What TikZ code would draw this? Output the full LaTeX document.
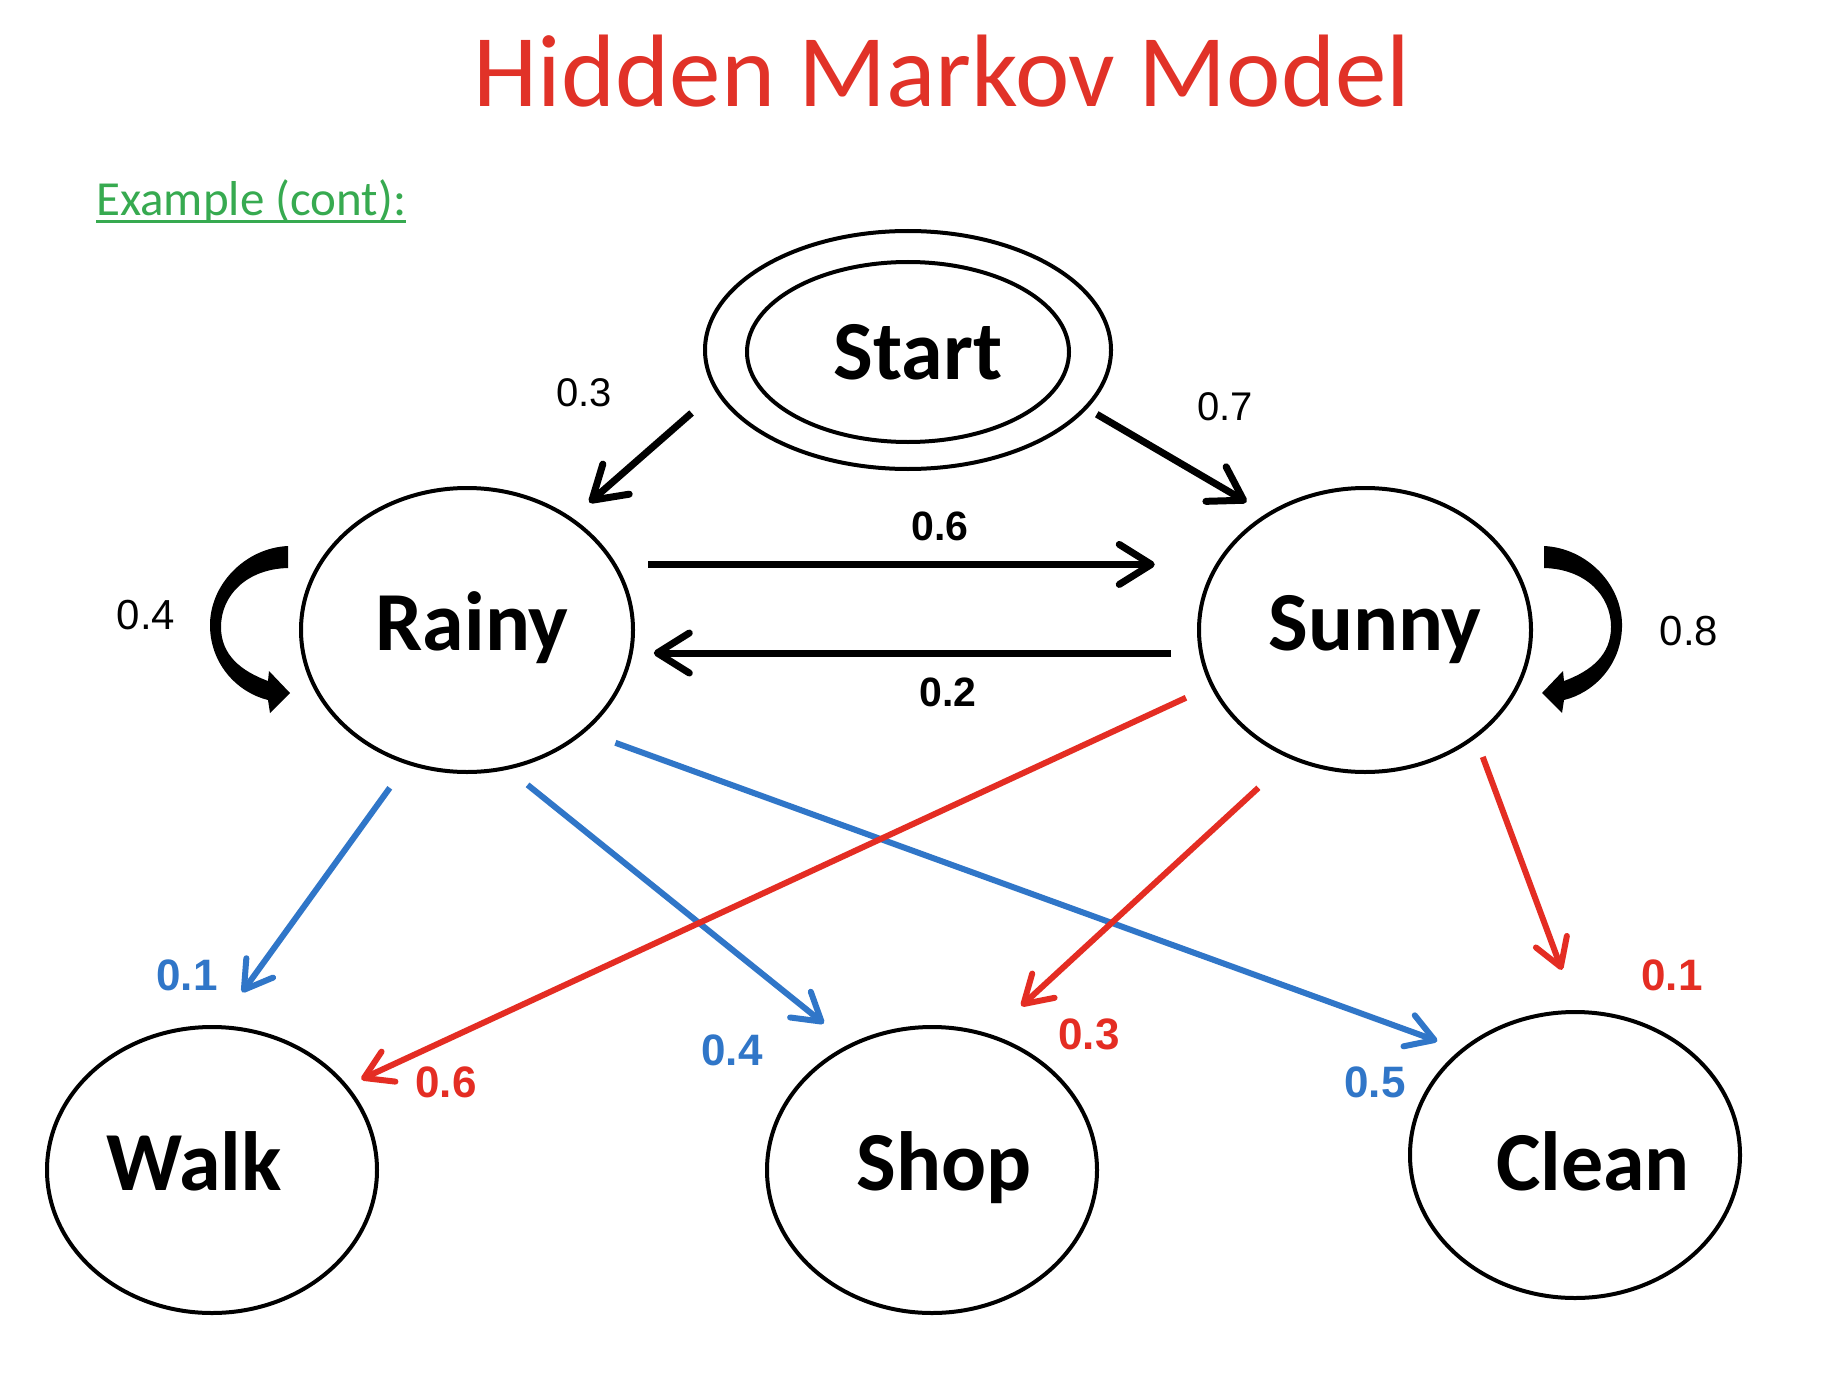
\documentclass[tikz,border=0pt]{standalone}
\usepackage{fontspec}
\setmainfont{Carlito}
\newfontfamily\labfont{Liberation Sans}
\usetikzlibrary{arrows.meta,shapes.geometric}
\definecolor{hmmred}{RGB}{225,50,40}
\definecolor{hmmgreen}{RGB}{55,170,80}
\definecolor{emblue}{RGB}{48,118,200}
\definecolor{emred}{RGB}{228,45,35}
\newcommand\hmmloop{(-179,-84) .. controls (-222,-82) and (-258,-45) .. (-257,-3)
  .. controls (-256,36) and (-228,63) .. (-199,70) -- (-197,83) -- (-177,63) -- (-198,41) -- (-199,51)
  .. controls (-226,41) and (-246,25) .. (-246,-3) .. controls (-246,-35) and (-220,-61) .. (-179,-62) -- cycle}
\begin{document}
\begin{tikzpicture}[x=1pt,y=-1pt,
  state/.style={ellipse,draw,line width=4pt,minimum width=332pt,minimum height=284pt,
    inner sep=0pt,outer sep=0pt,text height=40pt,text depth=0pt,font=\fontsize{84}{90}\selectfont\bfseries},
  obs/.style={state,minimum width=330pt,minimum height=286pt},
  trans/.style={line width=7pt,-{Straight Barb[length=32pt,width=40pt,round]}},
  emit/.style={line width=6pt,-{Straight Barb[length=27pt,width=33pt,round]}},
  blab/.style={inner sep=0pt,font=\labfont\fontsize{40}{44}\selectfont},
  bblab/.style={inner sep=0pt,font=\labfont\bfseries\fontsize{41}{44}\selectfont},
  clab/.style={inner sep=0pt,font=\labfont\bfseries\fontsize{44}{48}\selectfont},
]
\useasboundingbox[fill=white] (0,0) rectangle (1830,1380);

\node[anchor=base,text=hmmred,font=\fontsize{103}{110}\selectfont] (title) at (942,107) {Hidden Markov Model};
\node[anchor=base west,inner sep=0pt,text=hmmgreen,font=\fontsize{49}{55}\selectfont] (ex) at (96,216) {Example (cont):};
\draw[hmmgreen,line width=3pt] ([yshift=-6pt]ex.base west) -- ([yshift=-6pt]ex.base east);

\node[ellipse,draw,line width=4pt,minimum width=406pt,minimum height=238pt,inner sep=0pt,outer sep=0pt] (start) at (908,350) {};
\node[state,minimum width=322pt,minimum height=180pt,text height=54pt] (startin) at (908,352) {\hspace*{20pt}Start};
\node[state] (rainy) at (467,630) {\hspace*{10pt}Rainy};
\node[state] (sunny) at (1365,630) {\hspace*{20pt}Sunny};
\node[obs] (walk) at (212,1170) {Walk\hspace*{36pt}};
\node[obs] (shop) at (932,1170) {\hspace*{24pt}Shop};
\node[obs,text height=70pt] (clean) at (1575,1155) {\hspace*{36pt}Clean};

% transitions
\draw[trans,shorten <=34pt,shorten >=25pt] (start.192) -- (rainy.47);
\draw[trans,shorten <=13pt,shorten >=25pt] (start.342) -- (sunny.130);
\draw[trans,shorten <=34pt,shorten >=63pt] (rainy.24) -- (sunny.156);
\draw[trans,shorten <=30pt,shorten >=23pt] (sunny.188) -- (rainy.352);

% self loops
\fill[shift={(rainy.center)}] \hmmloop;
\fill[shift={(sunny.center)},xscale=-1] \hmmloop;

% emissions
\draw[emit,emblue,shorten <=31pt,shorten >=43pt] (rainy.246) -- (walk.88);
\draw[emit,emblue,shorten <=27pt,shorten >=35pt] (rainy.286) -- (shop.123);
\draw[emit,emblue,shorten <=34pt,shorten >=27pt] (rainy.319) -- (clean.137);
\draw[emit,emred,shorten <=29pt,shorten >=17pt] (sunny.200) -- (walk.32);
\draw[emit,emred,shorten <=45pt,shorten >=44pt] (sunny.240) -- (shop.67);
\draw[emit,emred,shorten <=22pt,shorten >=45pt] (sunny.316) -- (clean.89);

% labels
\node[blab] (p03) at (584,393) {0.3};
\node[blab] (p07) at (1225,407) {0.7};
\node[bblab] (p06) at (940,526) {0.6};
\node[bblab] (p02) at (948,692) {0.2};
\node[blab,font=\labfont\fontsize{42}{46}\selectfont] (p04) at (146,615) {0.4};
\node[blab,font=\labfont\fontsize{42}{46}\selectfont] (p08) at (1689,631) {0.8};
\node[clab,text=emblue] (e1) at (187,975) {0.1};
\node[clab,text=emblue] (e2) at (732,1050) {0.4};
\node[clab,text=emblue] (e3) at (1375,1082) {0.5};
\node[clab,text=emred] (e4) at (446,1082) {0.6};
\node[clab,text=emred] (e5) at (1089,1034) {0.3};
\node[clab,text=emred] (e6) at (1672,975) {0.1};
\end{tikzpicture}
\end{document}
